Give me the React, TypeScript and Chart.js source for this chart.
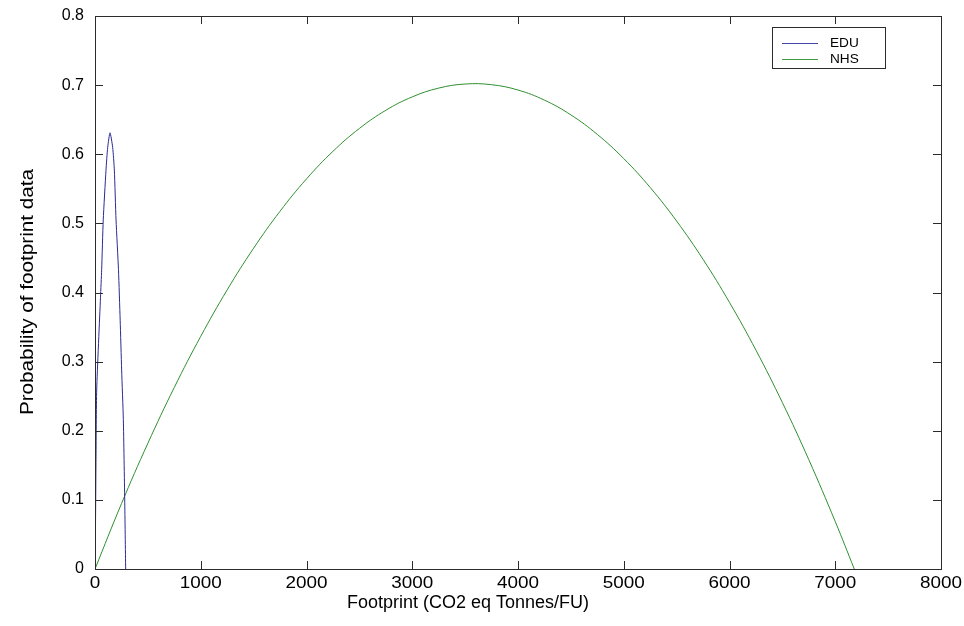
import React, { useEffect, useRef } from 'react';
import { Chart, registerables } from 'chart.js';

Chart.register(...registerables);

// Axis ticks
const xTicks = [0, 1000, 2000, 3000, 4000, 5000, 6000, 7000, 8000];
const xTickLabels = ['0', '1000', '2000', '3000', '4000', '5000', '6000', '7000', '8000'];
const yTicks = [0, 0.1, 0.2, 0.3, 0.4, 0.5, 0.6, 0.7, 0.8];
const yTickLabels = ['0', '0.1', '0.2', '0.3', '0.4', '0.5', '0.6', '0.7', '0.8'];

// EDU footprint probability curve
const eduX = [4.7, 9.5, 16, 52, 63, 78, 104, 120, 142, 167, 183, 199, 222, 238, 252, 268, 281, 290];
const eduY = [0.062, 0.158, 0.259, 0.393, 0.433, 0.505, 0.577, 0.61, 0.631, 0.61, 0.577, 0.505, 0.433, 0.36, 0.288, 0.216, 0.1, 0];

// NHS footprint probability curve
const nhsX = [0, 250, 500, 750, 1000, 1250, 1500, 1750, 2000, 2250, 2500, 2750, 3000, 3250, 3500, 3750, 4000, 4250, 4500, 4750, 5000, 5250, 5500, 5750, 6000, 6250, 6500, 6750, 7000, 7180];
const nhsY = [0, 0.0944, 0.1819, 0.2627, 0.3366, 0.4038, 0.4641, 0.5176, 0.5643, 0.6042, 0.6373, 0.6636, 0.683, 0.6957, 0.7016, 0.7006, 0.6929, 0.6783, 0.6569, 0.6287, 0.5937, 0.5519, 0.5033, 0.4479, 0.3856, 0.3166, 0.2408, 0.1581, 0.0686, 0];

const seriesNames = ['EDU', 'NHS'];
const seriesColors = ['#2a2a94', '#2f8f2f'];
const legendColors = ['#4545a8', '#3f9f3f'];

const xTitle = 'Footprint (CO2 eq Tonnes/FU)';
const yTitle = 'Probability of footprint data';

const FONT = '"Liberation Sans", Arial, Helvetica, sans-serif';

// Draws a text run; sx stretches it along its own baseline direction.
function drawText(
  ctx: CanvasRenderingContext2D,
  text: string,
  x: number,
  y: number,
  size: number,
  align: CanvasTextAlign,
  rotate = 0,
  sx = 1
) {
  ctx.save();
  ctx.translate(x, y);
  if (rotate) ctx.rotate(rotate);
  ctx.scale(sx, 1);
  ctx.font = `${size}px ${FONT}`;
  ctx.fillStyle = '#000';
  ctx.textAlign = align;
  ctx.textBaseline = 'middle';
  ctx.fillText(text, 0, 0);
  ctx.restore();
}

const framePlugin = {
  id: 'frame',
  afterDraw(chart: any) {
    const { ctx, chartArea } = chart;
    const { left, right, top, bottom } = chartArea;
    const xs = chart.scales.x;
    const ys = chart.scales.y;
    const tickLen = 8;

    ctx.save();
    ctx.strokeStyle = '#2b2b2b';
    ctx.lineWidth = 1;

    // axes box
    ctx.strokeRect(Math.round(left) + 0.5, Math.round(top) + 0.5, Math.round(right - left), Math.round(bottom - top));

    // inward ticks on all four sides
    ctx.beginPath();
    xTicks.forEach((v) => {
      const px = Math.round(xs.getPixelForValue(v)) + 0.5;
      ctx.moveTo(px, bottom);
      ctx.lineTo(px, bottom - tickLen);
      ctx.moveTo(px, top);
      ctx.lineTo(px, top + tickLen);
    });
    yTicks.forEach((v) => {
      const py = Math.round(ys.getPixelForValue(v)) + 0.5;
      ctx.moveTo(left, py);
      ctx.lineTo(left + tickLen, py);
      ctx.moveTo(right, py);
      ctx.lineTo(right - tickLen, py);
    });
    ctx.stroke();
    ctx.restore();

    // tick labels
    xTicks.forEach((v, i) => {
      drawText(ctx, xTickLabels[i], xs.getPixelForValue(v), bottom + 15, 16, 'center', 0, 1.18);
    });
    yTicks.forEach((v, i) => {
      drawText(ctx, yTickLabels[i], left - 11, ys.getPixelForValue(v), 16, 'right');
    });

    // axis titles
    drawText(ctx, xTitle, 468, 603, 18, 'center');
    drawText(ctx, yTitle, 28, 292, 18, 'center', -Math.PI / 2, 1.15);

    // legend
    const lx = 772, ly = 27, lw = 113, lh = 41;
    ctx.save();
    ctx.fillStyle = '#fff';
    ctx.fillRect(lx, ly, lw, lh);
    ctx.strokeStyle = '#2b2b2b';
    ctx.lineWidth = 1;
    ctx.strokeRect(lx + 0.5, ly + 0.5, lw, lh);
    chart.data.datasets.forEach((ds: any, i: number) => {
      const rowY = ly + 16 + i * 16;
      ctx.strokeStyle = legendColors[i];
      ctx.lineWidth = 1;
      ctx.beginPath();
      ctx.moveTo(lx + 10, rowY + 0.5);
      ctx.lineTo(lx + 46, rowY + 0.5);
      ctx.stroke();
      drawText(ctx, ds.label, lx + 58, rowY, 13, 'left', 0, 1.05);
    });
    ctx.restore();
  },
};

export default function App() {
  const canvasRef = useRef<HTMLCanvasElement | null>(null);

  useEffect(() => {
    const canvas = canvasRef.current;
    if (!canvas) return;

    const chart = new Chart(canvas, {
      type: 'line',
      data: {
        datasets: [
          {
            label: seriesNames[0],
            data: eduX.map((x, i) => ({ x, y: eduY[i] })),
            borderColor: seriesColors[0],
            borderWidth: 1,
            pointRadius: 0,
            tension: 0.2,
            fill: false,
          },
          {
            label: seriesNames[1],
            data: nhsX.map((x, i) => ({ x, y: nhsY[i] })),
            borderColor: seriesColors[1],
            borderWidth: 1,
            pointRadius: 0,
            tension: 0.4,
            fill: false,
          },
        ],
      },
      options: {
        responsive: false,
        animation: false,
        devicePixelRatio: 1,
        layout: { padding: { left: 0, top: 16, right: 23, bottom: 0 } },
        plugins: {
          legend: { display: false },
          tooltip: { enabled: false },
          title: { display: false },
        },
        scales: {
          x: {
            type: 'linear',
            min: 0,
            max: 8000,
            grid: { display: false },
            border: { display: false },
            ticks: { display: false, stepSize: 1000 },
            afterFit: (scale: any) => {
              scale.height = 57;
            },
          },
          y: {
            type: 'linear',
            min: 0,
            max: 0.8,
            grid: { display: false },
            border: { display: false },
            ticks: { display: false, stepSize: 0.1 },
            afterFit: (scale: any) => {
              scale.width = 95;
            },
          },
        },
      },
      plugins: [framePlugin],
    });

    return () => chart.destroy();
  }, []);

  return (
    <div style={{ position: 'fixed', left: 0, top: 0, width: 964, height: 626, background: '#fff' }}>
      <canvas ref={canvasRef} width={964} height={626} style={{ display: 'block' }} />
    </div>
  );
}
